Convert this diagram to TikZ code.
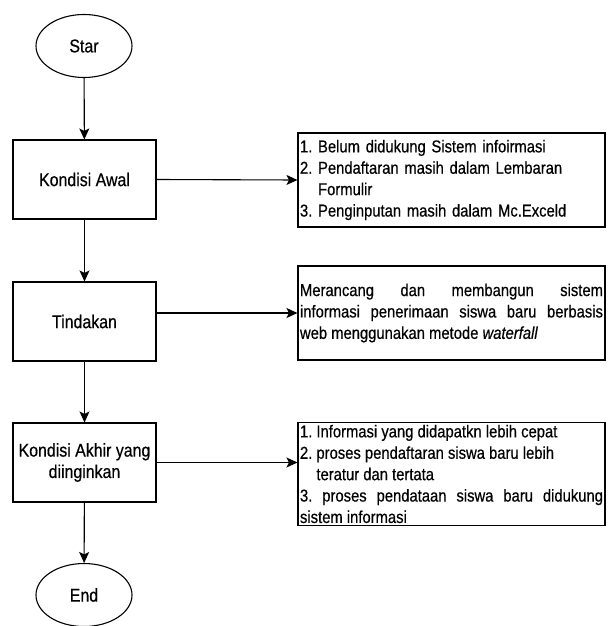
\documentclass[tikz,border=0pt]{standalone}
\usepackage{fontspec}
\setmainfont[FakeStretch=0.86,FakeBold=0.5]{Liberation Sans}
\usetikzlibrary{arrows.meta,shapes.geometric}
\begin{document}
\frenchspacing
\begin{tikzpicture}[x=1pt,y=-1pt,
  every node/.style={font=\fontsize{18.5}{21.4}\selectfont},
  termbox/.style={draw, line width=1.1pt, ellipse, minimum width=96pt, minimum height=63pt, inner sep=0pt},
  procbox/.style={draw, line width=1.1pt, rectangle, minimum width=143pt, minimum height=79pt, inner sep=2pt, align=center},
  notebox/.style={draw, line width=1.1pt, rectangle, minimum width=307pt, inner sep=2pt, text width=303pt, font=\fontsize{17.2}{21.4}\selectfont},
  flow/.style={line width=1.1pt, -{Stealth[length=11pt,width=10pt,inset=2.5pt]}}
]
\useasboundingbox (0,0) rectangle (608,626);
\node[termbox] (start) at (84,46) {Star};
\node[procbox] (awal) at (84.5,179.5) {Kondisi Awal};
\node[procbox] (tind) at (84.5,321.5) {Tindakan};
\node[procbox] (akhir) at (84.5,462.5) {Kondisi Akhir yang\\diinginkan};
\node[termbox] (end) at (84,595) {End};

\node[notebox, minimum height=94pt, align=left] (n1) at (451.5,180)
  {1. Belum didukung Sistem infoirmasi\\
   2. Pendaftaran masih dalam Lembaran\\
   \phantom{2. }Formulir\\
   3. Penginputan masih dalam Mc.Exceld};
\node[notebox, minimum height=94pt, align=justify] (n2) at (451.5,313)
  {Merancang dan membangun sistem\linebreak
   informasi penerimaan siswa baru berbasis\linebreak
   web menggunakan metode \textit{waterfall}};
\node[notebox, minimum height=102pt, align=justify] (n3) at (451.5,474)
  {1. Informasi yang didapatkn lebih cepat\hfill\null\linebreak
   2. proses pendaftaran siswa baru lebih\hfill\null\linebreak
   \phantom{2. }teratur dan tertata\hfill\null\linebreak
   3. proses pendataan siswa baru didukung\linebreak
   sistem informasi};

\draw[flow] (start) -- (awal);
\draw[flow] (awal) -- (tind);
\draw[flow] (tind) -- (akhir);
\draw[flow] (akhir) -- (end);
\draw[flow] (awal.east) -- (n1.west);
\draw[flow] (tind.east |- n2.west) -- (n2.west);
\draw[flow] (akhir.east) -- (akhir.east -| n3.west);
\end{tikzpicture}
\end{document}
